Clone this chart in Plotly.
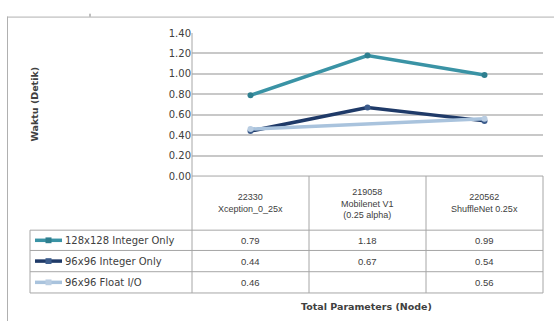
import plotly.graph_objects as go

# ---- data ----
params = ["22330", "219058", "220562"]
models = ["Xception_0_25x", "Mobilenet V1<br>(0.25 alpha)", "ShuffleNet 0.25x"]
series_names = ["128x128 Integer Only", "96x96 Integer Only", "96x96 Float I/O"]
s1 = [0.79, 1.18, 0.99]
s2 = [0.44, 0.67, 0.54]
s3 = [0.46, None, 0.56]
series_vals = [s1, s2, s3]
y_ticks = [0.0, 0.2, 0.4, 0.6, 0.8, 1.0, 1.2, 1.4]

colors = ["#3A93A5", "#1F3A68", "#A9C3DD"]
marker_colors = ["#2E7F8F", "#3C5C8C", "#B9CDE2"]

W, H = 554, 327
def px(x): return x / W
def py(y): return 1 - y / H

FONT = "DejaVu Sans"
CELL_FONT = "Liberation Sans"
TXT = "#404040"
BORDER = "#A6A6A6"
GRID = "#C8C8C8"

x_idx = list(range(len(params)))

fig = go.Figure()
for name, vals, c, mc in zip(series_names, series_vals, colors, marker_colors):
    fig.add_trace(go.Scatter(
        x=x_idx, y=vals, name=name, mode="lines+markers",
        connectgaps=True,
        line=dict(color=c, width=3.5),
        marker=dict(color=mc, size=6, symbol="circle"),
        showlegend=False,
    ))

left_plot, right_plot = 192, 543
top_plot, bot_plot = 29, 177
col_edges_px = [192, 309, 426, 543]
row_lines_px = [233, 254, 276, 298]
row_centers_px = [243.5, 265, 287]
table_left = 30

shapes = []
def line(x0, y0, x1, y1, color=BORDER, width=1):
    shapes.append(dict(type="line", xref="paper", yref="paper",
                       x0=px(x0), y0=py(y0), x1=px(x1), y1=py(y1),
                       line=dict(color=color, width=width), layer="above"))

# outer chart frame (top and left)
line(7, 12.5, 554, 12.5, color="#B0B0B0", width=1)
line(7.5, 12, 7.5, 327, color="#B0B0B0", width=1)
line(90, 9, 90, 12, color="#808080", width=1)

# axis / table vertical lines
line(192, top_plot, 192, row_lines_px[-1])
for xe in col_edges_px[1:]:
    line(xe, bot_plot, xe, row_lines_px[-1])
line(table_left, row_lines_px[0], table_left, row_lines_px[-1])
# table horizontal lines
line(192, bot_plot, 543, bot_plot)
for yl in row_lines_px:
    line(table_left, yl, 543, yl)

annotations = []
# header cells
for i, (p, m) in enumerate(zip(params, models)):
    annotations.append(dict(
        x=i, xref="x", y=py(205), yref="paper",
        text=p + "<br>" + m, showarrow=False,
        font=dict(family=CELL_FONT, size=9, color=TXT),
        xanchor="center", yanchor="middle", align="center"))

# value cells + legend keys
for r, (name, vals, c, mc) in enumerate(zip(series_names, series_vals, colors, marker_colors)):
    yc = row_centers_px[r]
    for i, v in enumerate(vals):
        if v is None:
            continue
        annotations.append(dict(
            x=i, xref="x", y=py(yc), yref="paper",
            text=f"{v:.2f}", showarrow=False,
            font=dict(family=CELL_FONT, size=9.5, color=TXT),
            xanchor="center", yanchor="middle"))
    annotations.append(dict(
        x=px(63), xref="paper", y=py(yc), yref="paper",
        text=name, showarrow=False,
        font=dict(family=FONT, size=10, color=TXT),
        xanchor="left", yanchor="middle"))
    line(35, yc, 62, yc, color=c, width=3.5)
    shapes.append(dict(type="rect", xref="paper", yref="paper",
                       x0=px(45.5), x1=px(51.5), y0=py(yc + 3), y1=py(yc - 3),
                       fillcolor=mc, line=dict(width=0), layer="above"))

# axis titles
annotations.append(dict(
    x=px(366), xref="paper", y=py(312), yref="paper",
    text="<b>Total Parameters (Node)</b>", showarrow=False,
    font=dict(family=FONT, size=9.5, color=TXT),
    xanchor="center", yanchor="middle"))
annotations.append(dict(
    x=px(35), xref="paper", y=py(103), yref="paper",
    text="<b>Waktu (Detik)</b>", showarrow=False, textangle=-90,
    font=dict(family=FONT, size=9.5, color=TXT),
    xanchor="center", yanchor="middle"))

fig.update_layout(
    width=W, height=H,
    margin=dict(l=0, r=0, t=0, b=0),
    paper_bgcolor="white", plot_bgcolor="white",
    xaxis=dict(domain=[px(left_plot), px(right_plot)], range=[-0.5, 2.5],
               showticklabels=False, showgrid=False, zeroline=False, showline=False),
    yaxis=dict(domain=[py(bot_plot), py(top_plot)], range=[0, 1.4],
               tickvals=y_ticks, ticktext=[f"{t:.2f}" for t in y_ticks],
               showgrid=True, gridcolor=GRID, gridwidth=1.5,
               zeroline=False, showline=False, ticks="", ticklen=0,
               tickfont=dict(family=FONT, size=10, color=TXT)),
    shapes=shapes,
    annotations=annotations,
    showlegend=False,
)

fig.write_html("out.html")
